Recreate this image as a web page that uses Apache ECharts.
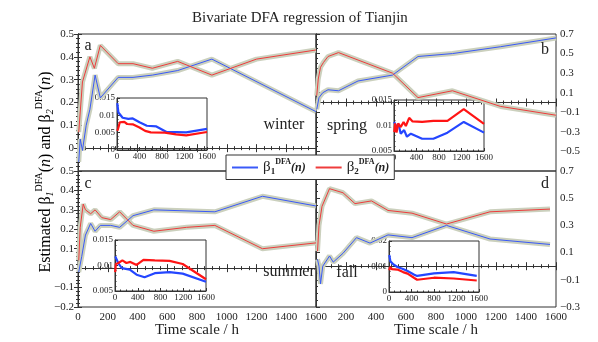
<!DOCTYPE html>
<html>
<head>
<meta charset="utf-8">
<script src="https://cdn.jsdelivr.net/npm/echarts@6/dist/echarts.min.js"></script>
<style>
  html, body { margin: 0; padding: 0; background: #fff; }
  #chart { width: 598px; height: 342px; }
</style>
</head>
<body>
<div id="chart"></div>
<script>
// main panels: [time scale (h), beta]
const winterB1 = [[5, -0.06], [15, 0.04], [30, -0.01], [55, 0.10], [80, 0.17], [115, 0.32], [150, 0.22], [270, 0.31], [370, 0.31], [500, 0.32], [670, 0.34], [900, 0.39], [1600, 0.16]]
const winterB2 = [[5, 0.07], [30, 0.29], [80, 0.40], [110, 0.35], [150, 0.45], [270, 0.37], [370, 0.37], [500, 0.35], [670, 0.38], [900, 0.32], [1200, 0.39], [1600, 0.43]]
const springB1 = [[5, -0.07], [20, 0.05], [45, 0.10], [80, 0.13], [150, 0.12], [280, 0.22], [510, 0.28], [680, 0.47], [910, 0.50], [1230, 0.57], [1600, 0.66]]
const springB2 = [[5, 0.07], [15, 0.24], [30, 0.36], [50, 0.41], [80, 0.47], [150, 0.51], [510, 0.30], [680, 0.05], [910, 0.12], [1230, -0.04], [1600, -0.13]]
const summerB1 = [[5, -0.02], [25, 0.06], [50, 0.17], [85, 0.23], [115, 0.19], [150, 0.22], [220, 0.22], [280, 0.21], [370, 0.27], [510, 0.30], [920, 0.29], [1240, 0.37], [1600, 0.32]]
const summerB2 = [[5, 0.04], [15, 0.21], [35, 0.33], [50, 0.30], [60, 0.31], [85, 0.28], [115, 0.30], [160, 0.26], [220, 0.25], [280, 0.29], [370, 0.22], [510, 0.19], [730, 0.21], [920, 0.22], [1240, 0.10], [1600, 0.13]]
const fallB1 = [[10, 0.05], [20, 0.0], [30, -0.13], [45, 0.0], [90, 0.075], [115, 0.03], [180, 0.095], [270, 0.21], [360, 0.17], [480, 0.23], [640, 0.21], [870, 0.30], [1160, 0.20], [1560, 0.16]]
const fallB2 = [[10, 0.11], [20, 0.30], [40, 0.44], [90, 0.57], [180, 0.54], [260, 0.46], [370, 0.48], [480, 0.41], [640, 0.39], [870, 0.31], [1160, 0.40], [1560, 0.42]]

// insets
const winterInB1 = [[5, 0.0135], [25, 0.0108], [60, 0.0108], [100, 0.0093], [200, 0.009], [280, 0.0091], [400, 0.008], [530, 0.007], [700, 0.0068], [880, 0.0052], [1230, 0.0051], [1600, 0.0061]]
const winterInB2 = [[5, 0.0055], [20, 0.0062], [50, 0.008], [130, 0.0081], [180, 0.0075], [280, 0.0074], [400, 0.0065], [500, 0.0055], [600, 0.0051], [850, 0.005], [1050, 0.0045], [1230, 0.0042], [1600, 0.0052]]
const springInB1 = [[5, 0.0107], [35, 0.0097], [80, 0.0103], [120, 0.0084], [180, 0.0091], [230, 0.0078], [300, 0.0084], [500, 0.0074], [700, 0.0074], [950, 0.0086], [1240, 0.0107], [1600, 0.0086]]
const springInB2 = [[5, 0.0087], [20, 0.0104], [45, 0.0086], [75, 0.0104], [120, 0.0097], [170, 0.0107], [210, 0.0099], [270, 0.0115], [330, 0.0108], [500, 0.0107], [700, 0.0109], [950, 0.0109], [1240, 0.0132], [1600, 0.0103]]
const summerInB1 = [[5, 0.0118], [30, 0.0116], [60, 0.0104], [120, 0.0095], [260, 0.0092], [380, 0.0082], [520, 0.0077], [700, 0.0085], [960, 0.0087], [1190, 0.0084], [1600, 0.0068]]
const summerInB2 = [[3, 0.0087], [15, 0.0103], [60, 0.0105], [130, 0.011], [200, 0.0105], [270, 0.0107], [380, 0.0101], [500, 0.0111], [700, 0.011], [960, 0.0109], [1190, 0.0103], [1600, 0.0073]]
const fallInB1 = [[5, 0.0145], [25, 0.012], [80, 0.0108], [150, 0.0098], [250, 0.009], [330, 0.0082], [450, 0.0068], [500, 0.0063], [800, 0.0073], [1150, 0.0078], [1560, 0.0063]]
const fallInB2 = [[5, 0.0085], [20, 0.0098], [50, 0.009], [150, 0.0088], [250, 0.0078], [330, 0.0072], [450, 0.0055], [500, 0.0048], [800, 0.0056], [1150, 0.0053], [1560, 0.0045]]

const seasons = ['winter', 'spring', 'summer', 'fall']
const panelLetters = ['a', 'b', 'c', 'd']

const serif = 'Liberation Serif'
const ink = '#222'
const blue = '#3a5af8'
const red = '#ee3c3c'

const chart = echarts.init(document.getElementById('chart'))

// grid boxes: 4 main panels then 4 insets
const grids = [
  { left: 78, top: 34, width: 238, height: 137 },
  { left: 316, top: 34, width: 240, height: 137 },
  { left: 78, top: 171, width: 238, height: 136 },
  { left: 316, top: 171, width: 240, height: 136 },
  { left: 117, top: 98, width: 90, height: 52 },
  { left: 394, top: 100, width: 90, height: 51 },
  { left: 115, top: 240, width: 91, height: 51 },
  { left: 389, top: 241, width: 90, height: 51 }
].map((g, i) => ({
  ...g,
  show: true,
  borderColor: '#333',
  borderWidth: 1,
  backgroundColor: i >= 4 ? '#fff' : 'transparent'
}))

const mainY = [
  { min: -0.1, max: 0.5, interval: 0.1, split: 5, side: 'left', hideMin: true },
  { min: -0.7, max: 0.7, interval: 0.2, split: 4, side: 'right', hideMin: true },
  { min: -0.2, max: 0.5, interval: 0.1, split: 5, side: 'left', hideMin: false },
  { min: -0.3, max: 0.7, interval: 0.2, split: 4, side: 'right', hideMin: false }
]
const insetY = [
  { min: 0, max: 0.015, interval: 0.005 },
  { min: 0.005, max: 0.015, interval: 0.005 },
  { min: 0.005, max: 0.015, interval: 0.005 },
  { min: 0, max: 0.02, interval: 0.01 }
]

const line = { lineStyle: { color: '#333' } }
const fmt = (v) => String(+v.toFixed(3)).replace('-', '\u2212')

const xAxis = []
const yAxis = []
for (let g = 0; g < 4; g++) {
  xAxis.push({
    gridIndex: g, type: 'value', min: 0, max: 1600, interval: 200, position: 'bottom',
    axisLine: line, splitLine: { show: false },
    axisTick: { inside: true, length: 4, ...line },
    minorTick: { show: true, splitNumber: 4, length: 2, ...line },
    axisLabel: {
      show: g >= 2, fontFamily: serif, fontSize: 11, color: ink, margin: 5,
      showMinLabel: true, showMaxLabel: true, hideOverlap: false,
      formatter: (v) => (g === 3 && v === 0 ? '' : String(v))
    }
  })
}
for (let g = 0; g < 4; g++) {
  xAxis.push({
    gridIndex: g, type: 'value', min: 0, max: 1600, interval: 200, position: 'top',
    axisLine: line, splitLine: { show: false }, axisLabel: { show: false },
    axisTick: { inside: true, length: 4, ...line },
    minorTick: { show: true, splitNumber: 4, length: 2, ...line }
  })
}
for (let k = 0; k < 4; k++) {
  xAxis.push({
    gridIndex: 4 + k, type: 'value', min: 0, max: 1600, interval: 400,
    axisLine: line, splitLine: { show: false },
    axisTick: { inside: true, length: 3, ...line },
    minorTick: { show: true, splitNumber: 4, length: 1.5, ...line },
    axisLabel: {
      fontFamily: serif, fontSize: 9, color: ink, margin: 2,
      showMinLabel: true, showMaxLabel: true, hideOverlap: false,
      formatter: (v) => String(v)
    }
  })
}
for (let g = 0; g < 4; g++) {
  const m = mainY[g]
  yAxis.push({
    gridIndex: g, type: 'value', min: m.min, max: m.max, interval: m.interval, position: m.side,
    axisLine: line, splitLine: { show: false },
    axisTick: { inside: m.side === 'left', length: 4, ...line },
    minorTick: { show: true, splitNumber: m.split, length: 2, ...line },
    axisLabel: {
      fontFamily: serif, fontSize: 11, color: ink, margin: 4,
      showMinLabel: true, showMaxLabel: true, hideOverlap: false,
      formatter: (v) => (m.hideMin && Math.abs(v - m.min) < 1e-9 ? '' : fmt(v))
    }
  })
}
for (let g = 0; g < 4; g++) {
  const m = mainY[g]
  yAxis.push({
    gridIndex: g, type: 'value', min: m.min, max: m.max, interval: m.interval,
    position: m.side === 'left' ? 'right' : 'left',
    axisLine: line, splitLine: { show: false }, axisLabel: { show: false },
    axisTick: { inside: true, length: 4, ...line },
    minorTick: { show: true, splitNumber: m.split, length: 2, ...line }
  })
}
for (let k = 0; k < 4; k++) {
  const m = insetY[k]
  yAxis.push({
    gridIndex: 4 + k, type: 'value', min: m.min, max: m.max, interval: m.interval,
    axisLine: line, splitLine: { show: false },
    axisTick: { inside: true, length: 3, ...line },
    minorTick: { show: true, splitNumber: 5, length: 1.5, ...line },
    axisLabel: {
      fontFamily: serif, fontSize: 9, color: ink, margin: 2,
      showMinLabel: true, showMaxLabel: true, hideOverlap: false, formatter: fmt
    }
  })
}

const mainData = [[winterB1, winterB2], [springB1, springB2], [summerB1, summerB2], [fallB1, fallB2]]
const insetData = [[winterInB1, winterInB2], [springInB1, springInB2], [summerInB1, summerInB2], [fallInB1, fallInB2]]

const series = []
mainData.forEach((pair, g) => {
  pair.forEach((d) => {
    series.push({
      type: 'line', data: d, xAxisIndex: g, yAxisIndex: g, showSymbol: false, silent: true,
      lineStyle: { width: 5, color: '#cbd0bd' }, z: 1, animation: false
    })
  })
  pair.forEach((d, i) => {
    series.push({
      name: i === 0 ? 'b1' : 'b2',
      type: 'line', data: d, xAxisIndex: g, yAxisIndex: g, showSymbol: false,
      color: i === 0 ? blue : red,
      lineStyle: { width: 1, color: i === 0 ? blue : red }, z: 2, animation: false
    })
  })
})
insetData.forEach((pair, k) => {
  pair.forEach((d, i) => {
    series.push({
      type: 'line', data: d, xAxisIndex: 8 + k, yAxisIndex: 8 + k, showSymbol: false,
      lineStyle: { width: 2.2, color: i === 0 ? '#2446ff' : '#ff1414' }, z: 3, animation: false
    })
  })
})

const txt = (text, x, y, size) => ({
  type: 'text', x, y, z: 100, zlevel: 1, silent: true,
  style: { text, align: 'center', verticalAlign: 'middle', fontFamily: serif, fontSize: size || 16, fill: ink }
})

const richLabel = {
  t: { fontFamily: serif, fontSize: 16, color: ink },
  i: { fontFamily: serif, fontSize: 16, fontStyle: 'italic', color: ink },
  sb: { fontFamily: serif, fontSize: 10, fontStyle: 'italic', color: ink, padding: [9, 0, 0, 0] },
  sp: { fontFamily: serif, fontSize: 10, color: ink, padding: [0, 0, 13, 0] }
}

const option = {
  animation: false,
  title: {
    text: 'Bivariate DFA regression of Tianjin',
    left: 192, top: 11, padding: 0,
    textStyle: { fontFamily: serif, fontSize: 15, fontWeight: 'normal', color: ink }
  },
  legend: {
    data: ['b1', 'b2'],
    left: 226, top: 155,
    padding: [3, 5, 3, 6],
    itemWidth: 26, itemHeight: 2, itemGap: 10,
    icon: 'rect',
    selectedMode: false,
    backgroundColor: '#fff',
    borderColor: '#333', borderWidth: 1,
    formatter: (n) => (n === 'b1'
      ? '{g|β}{sb|1}{sp|DFA}{n|(n)}'
      : '{g|β}{sb|2}{sp|DFA}{n|(n)}'),
    textStyle: {
      rich: {
        g: { fontFamily: serif, fontSize: 15, color: ink },
        sb: { fontFamily: serif, fontSize: 9, fontWeight: 'bold', color: ink, padding: [9, 0, 0, 0] },
        sp: { fontFamily: serif, fontSize: 8, fontWeight: 'bold', color: ink, padding: [0, 0, 11, 0] },
        n: { fontFamily: serif, fontSize: 12, fontWeight: 'bold', fontStyle: 'italic', color: ink }
      }
    }
  },
  grid: grids,
  xAxis,
  yAxis,
  series,
  graphic: [
    {
      type: 'text', x: 46, y: 172, rotation: Math.PI / 2, z: 100, zlevel: 1, silent: true,
      style: {
        text: '{t|Estimated β}{sb|1}{sp|DFA}{t|(}{i|n}{t|) and β}{sb|2}{sp|DFA}{t|(}{i|n}{t|)}',
        align: 'center', verticalAlign: 'middle', rich: richLabel
      }
    },
    txt('Time scale / h', 197, 330, 15),
    txt('Time scale / h', 436, 330, 15),
    txt(seasons[0], 284, 125),
    txt(seasons[1], 347, 126),
    txt(seasons[2], 289, 272),
    txt(seasons[3], 347, 273),
    txt(panelLetters[0], 88, 46),
    txt(panelLetters[1], 545, 50),
    txt(panelLetters[2], 88, 184),
    txt(panelLetters[3], 545, 184)
  ]
}

chart.setOption(option)
</script>
</body>
</html>
